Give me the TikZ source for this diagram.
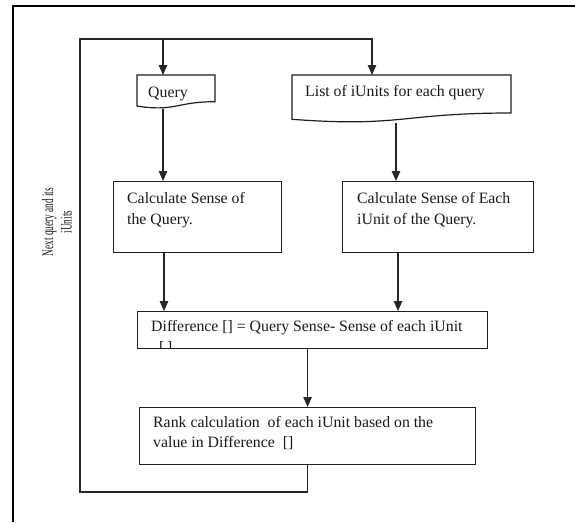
\documentclass[tikz,border=0pt]{standalone}
\usepackage{fontspec}
\setmainfont{Liberation Serif}
\newfontfamily\condfont[FakeStretch=0.58]{Liberation Serif}
\usetikzlibrary{arrows.meta,calc}
\begin{document}
\begin{tikzpicture}[x=1pt,y=-1pt,
  box/.style={draw=black!88, line width=1.2pt, inner sep=0pt, anchor=north west},
  hold/.style={inner sep=0pt, anchor=north west},
  lbl/.style={anchor=base west, inner sep=0pt, font=\fontsize{15.8}{21}\selectfont, text=black!90},
  arr/.style={draw=black!85, line width=1.2pt, -{Triangle[length=10pt,width=8.5pt]}},
  ln/.style={draw=black!85, line width=1.2pt}]
\useasboundingbox (0,0) rectangle (575,522);
% outer frame (top and left edges)
\draw[line width=2pt] (13,522) -- (13,6) -- (575,6);

% document shapes
\node[hold, minimum width=78pt, minimum height=33.3pt] (query) at (137,75) {};
\draw[box] (137,75) -- (215,75) -- (215,101.7) .. controls (176,101.7) and (176,111.9) .. (137,106.1) -- cycle;
\node[hold, minimum width=219pt, minimum height=47.4pt] (list) at (292,75) {};
\draw[box] (292,75) -- (511,75) -- (511,113) .. controls (401.5,113) and (401.5,127.5) .. (292,119.3) -- cycle;

% process boxes
\node[box, minimum width=168pt, minimum height=71pt] (calc1) at (113,181) {};
\node[box, minimum width=191pt, minimum height=71pt] (calc2) at (342,181) {};
\node[box, minimum width=350pt, minimum height=37pt] (diff) at (137,311) {};
\node[box, minimum width=336pt, minimum height=57pt] (rank) at (139,407) {};

% texts
\node[lbl] (tq) at (148,97) {Query};
\node[lbl] (tl) at (305,96.5) {List of iUnits for each query};
\node[lbl] (tc1a) at (127,203) {Calculate Sense of};
\node[lbl] (tc1b) at (127,224.5) {the Query.};
\node[lbl] (tc2a) at (357,203) {Calculate Sense of Each};
\node[lbl] (tc2b) at (357,224.5) {iUnit of the Query.};
\node[lbl] (td) at (151,331) {Difference [] = Query Sense- Sense of each iUnit};
\begin{scope}
  \clip (137.6,311.6) rectangle (486.4,347.4);
  \node[lbl] (td2) at (159,352.5) {[\,]};
\end{scope}
\node[lbl] (tr1) at (153,427) {Rank calculation\ \ of each iUnit based on the};
\node[lbl] (tr2) at (153,447.5) {value in Difference\ \ []};
\node[rotate=90, align=center, inner sep=0pt, text=black!90,
      font=\condfont\fontsize{16}{18.5}\selectfont] (side) at (57,222) {Next query and its\\iUnits};

% connector reference points
\coordinate (qx) at (163,0);
\coordinate (lx) at (396,0);
\coordinate (c1x) at (164,0);
\coordinate (c2x) at (398,0);
\coordinate (lt) at (80,39);
\coordinate (lb) at (80,492);
\coordinate (lin) at (372,75);

% connectors
\draw[arr] (rank.south) |- (lb) |- (lin |- lt) -- (lin);
\draw[arr] (qx |- lt) -- (qx |- query.north);
\draw[arr] (qx |- query.south) -- (qx |- calc1.north);
\draw[arr] (lx |- list.south) -- (lx |- calc2.north);
\draw[arr] (c1x |- calc1.south) -- (c1x |- diff.north);
\draw[arr] (c2x |- calc2.south) -- (c2x |- diff.north);
\draw[arr] (diff.south -| rank.north) -- (rank.north);
\end{tikzpicture}
\end{document}
